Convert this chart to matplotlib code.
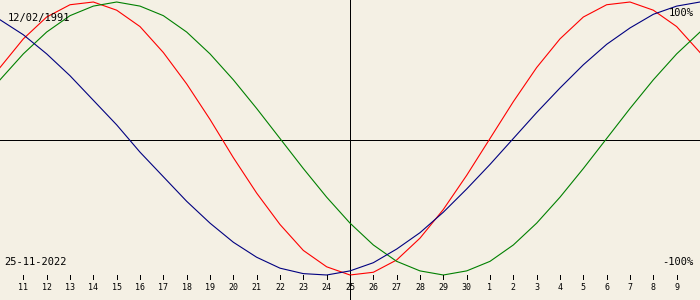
#biorhythm chart around 25-11-2022 (birth 12/02/1991)

import matplotlib.pyplot as plt
import numpy as np
import matplotlib as mpl

mpl.rcParams['font.family'] = 'DejaVu Sans Mono'

birth_label = "12/02/1991"
date_label = "25-11-2022"

# day offsets from the selected date
days = np.arange(-15, 16)

# values, one per day (-1 .. 1)
physical = [0.52, 0.73, 0.89, 0.98, 1.00, 0.94, 0.82, 0.63, 0.40, 0.14,
            -0.14, -0.40, -0.63, -0.82, -0.94, -1.00, -0.98, -0.89, -0.73, -0.52,
            -0.27, 0.00, 0.27, 0.52, 0.73, 0.89, 0.98, 1.00, 0.94, 0.82, 0.63]
emotional = [0.43, 0.62, 0.78, 0.90, 0.97, 1.00, 0.97, 0.90, 0.78, 0.62,
             0.43, 0.22, 0.00, -0.22, -0.43, -0.62, -0.78, -0.90, -0.97, -1.00,
             -0.97, -0.90, -0.78, -0.62, -0.43, -0.22, 0.00, 0.22, 0.43, 0.62, 0.78]
intellectual = [0.87, 0.76, 0.62, 0.46, 0.28, 0.10, -0.10, -0.28, -0.46, -0.62,
                -0.76, -0.87, -0.95, -0.99, -1.00, -0.97, -0.91, -0.81, -0.69, -0.54,
                -0.37, -0.19, 0.00, 0.19, 0.37, 0.54, 0.69, 0.81, 0.91, 0.97, 1.00]

tick_days = np.arange(-14, 15)
tick_labels = [str(n) for n in list(range(11, 31)) + list(range(1, 10))]

bg = '#f4f0e4'

fig = plt.figure(figsize=(7, 3), dpi=100, facecolor=bg)
ax = fig.add_axes([0, 0, 1, 1], facecolor=bg)

# pixel row 0 -> 1.0147, row 300 -> -1.1832
ax.set_xlim(-15, 15)
ax.set_ylim(-1.1832, 1.0147)
ax.set_axis_off()

lw = 0.6
ax.axhline(-0.011, color='black', lw=lw, antialiased=False)
ax.axvline(0, color='black', lw=lw, antialiased=False)

ax.plot(days, physical, color='#ff0000', lw=0.8)
ax.plot(days, emotional, color='#008000', lw=0.8)
ax.plot(days, intellectual, color='#000080', lw=0.8)

# day ticks along the bottom
ax.vlines(tick_days, -1.0, -1.03, color='black', lw=lw, antialiased=False)
for d, lab in zip(tick_days, tick_labels):
    ax.text(d, -1.095, lab, ha='center', va='center', fontsize=6, color='black')

ax.text(0.011, 0.94, birth_label, transform=ax.transAxes, ha='left', va='center', fontsize=7.5)
ax.text(0.006, 0.127, date_label, transform=ax.transAxes, ha='left', va='center', fontsize=7.5)
ax.text(0.991, 0.957, "100%", transform=ax.transAxes, ha='right', va='center', fontsize=7.5)
ax.text(0.991, 0.127, "-100%", transform=ax.transAxes, ha='right', va='center', fontsize=7.5)

fig.savefig("out.png", dpi=100, facecolor=bg)
